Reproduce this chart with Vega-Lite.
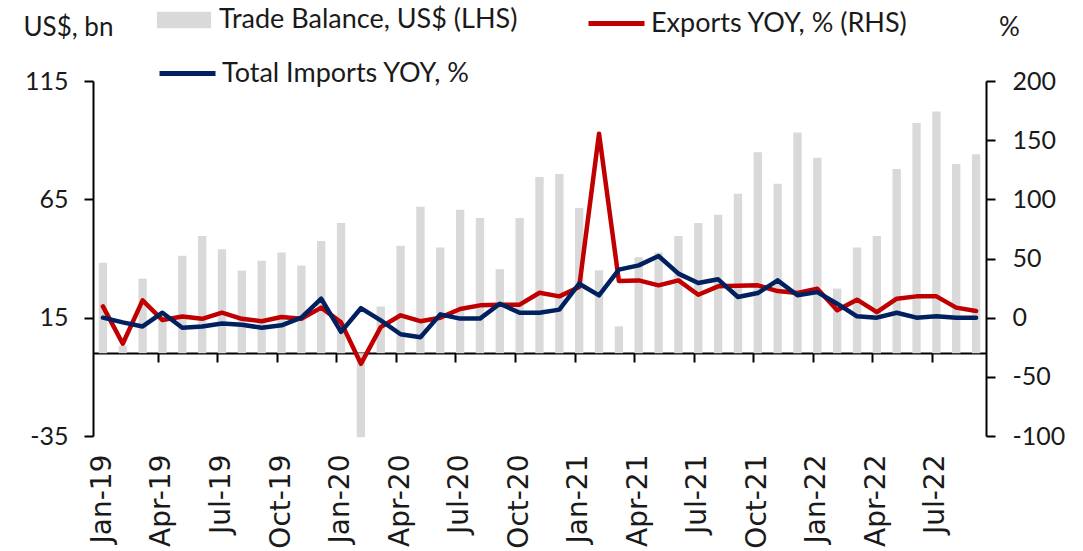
{
  "$schema": "https://vega.github.io/schema/vega-lite/v6.json",
  "width": 893,
  "height": 355,
  "autosize": "none",
  "padding": {"left": 93, "top": 81, "right": 97, "bottom": 115},
  "background": "white",
  "config": {
    "view": {"stroke": null},
    "font": "Lato",
    "axis": {"labelColor": "#1a1a1a", "titleColor": "#1a1a1a", "grid": false},
    "legend": {"labelColor": "#1a1a1a", "labelFont": "Lato"}
  },
  "data": {
    "values": [
      {"month": "Jan-19", "tb": 38.2, "exp": 9.5, "imp": 0},
      {"month": "Feb-19", "tb": 3, "exp": -22, "imp": -4},
      {"month": "Mar-19", "tb": 31.5, "exp": 14.6, "imp": -7.4},
      {"month": "Apr-19", "tb": 16, "exp": -2, "imp": 4.2},
      {"month": "May-19", "tb": 41.2, "exp": 1, "imp": -8.5},
      {"month": "Jun-19", "tb": 49.5, "exp": -1, "imp": -7.4},
      {"month": "Jul-19", "tb": 43.9, "exp": 4.2, "imp": -5},
      {"month": "Aug-19", "tb": 34.9, "exp": -1, "imp": -6},
      {"month": "Sep-19", "tb": 39.1, "exp": -3, "imp": -8.5},
      {"month": "Oct-19", "tb": 42.5, "exp": 0.5, "imp": -6.5},
      {"month": "Nov-19", "tb": 37, "exp": -1, "imp": 0},
      {"month": "Dec-19", "tb": 47.4, "exp": 8.5, "imp": 16},
      {"month": "Jan-20", "tb": 55, "exp": -4, "imp": -12},
      {"month": "Feb-20", "tb": -35.5, "exp": -39, "imp": 8},
      {"month": "Mar-20", "tb": 19.7, "exp": -8, "imp": -2.3},
      {"month": "Apr-20", "tb": 45.4, "exp": 2, "imp": -14},
      {"month": "May-20", "tb": 61.9, "exp": -3, "imp": -16.5},
      {"month": "Jun-20", "tb": 44.6, "exp": 0, "imp": 2.8},
      {"month": "Jul-20", "tb": 60.6, "exp": 7.3, "imp": -0.8},
      {"month": "Aug-20", "tb": 57.1, "exp": 10.4, "imp": -0.8},
      {"month": "Sep-20", "tb": 35.5, "exp": 10.9, "imp": 11.8},
      {"month": "Oct-20", "tb": 57.1, "exp": 11, "imp": 4.2},
      {"month": "Nov-20", "tb": 74.4, "exp": 21.1, "imp": 4.2},
      {"month": "Dec-20", "tb": 75.7, "exp": 18, "imp": 6.8},
      {"month": "Jan-21", "tb": 61.3, "exp": 25.9, "imp": 28.7},
      {"month": "Feb-21", "tb": 35, "exp": 155.5, "imp": 18.8},
      {"month": "Mar-21", "tb": 11.3, "exp": 31, "imp": 40.6},
      {"month": "Apr-21", "tb": 40.5, "exp": 31.5, "imp": 44.2},
      {"month": "May-21", "tb": 42.5, "exp": 27.3, "imp": 52.1},
      {"month": "Jun-21", "tb": 49.5, "exp": 31.5, "imp": 37.2},
      {"month": "Jul-21", "tb": 55, "exp": 19.4, "imp": 29.3},
      {"month": "Aug-21", "tb": 58.5, "exp": 26.5, "imp": 32.4},
      {"month": "Sep-21", "tb": 67.4, "exp": 27, "imp": 17.5},
      {"month": "Oct-21", "tb": 84.9, "exp": 27.3, "imp": 20.8},
      {"month": "Nov-21", "tb": 71.6, "exp": 22.5, "imp": 31.5},
      {"month": "Dec-21", "tb": 93.2, "exp": 20.8, "imp": 19},
      {"month": "Jan-22", "tb": 82.6, "exp": 24.5, "imp": 21.6},
      {"month": "Feb-22", "tb": 27.3, "exp": 6.2, "imp": 11.8},
      {"month": "Mar-22", "tb": 44.6, "exp": 15.2, "imp": 1.1},
      {"month": "Apr-22", "tb": 49.5, "exp": 4.7, "imp": 0},
      {"month": "May-22", "tb": 77.8, "exp": 16, "imp": 4.2},
      {"month": "Jun-22", "tb": 97.3, "exp": 18, "imp": 0},
      {"month": "Jul-22", "tb": 102.1, "exp": 18, "imp": 1.1},
      {"month": "Aug-22", "tb": 79.9, "exp": 8.5, "imp": 0},
      {"month": "Sep-22", "tb": 84, "exp": 5.6, "imp": 0}
    ]
  },
  "layer": [
    {
      "mark": {"type": "bar", "color": "#d9d9d9"},
      "encoding": {
        "x": {
          "field": "month", "type": "ordinal", "sort": null,
          "scale": {"paddingInner": 0.58, "paddingOuter": 0.29},
          "axis": {
            "orient": "bottom",
            "values": ["Jan-19","Apr-19","Jul-19","Oct-19","Jan-20","Apr-20","Jul-20","Oct-20","Jan-21","Apr-21","Jul-21","Oct-21","Jan-22","Apr-22","Jul-22"],
            "labelAngle": -90, "labelFont": "DejaVu Sans", "labelFontSize": 28,
            "labelPadding": 18, "domain": false, "ticks": false, "title": null
          }
        },
        "y": {
          "field": "tb", "type": "quantitative",
          "scale": {"domain": [-35, 115], "nice": false, "zero": false},
          "axis": {
            "orient": "left", "values": [-35, 15, 65, 115], "labelExpr": "'' + datum.value",
            "domainColor": "#000", "domainWidth": 2, "tickColor": "#000", "tickWidth": 2, "tickSize": 9,
            "labelFontSize": 25, "labelPadding": 16,
            "title": "US$, bn", "titleAngle": 0, "titleX": -70, "titleY": -54,
            "titleAlign": "left", "titleBaseline": "middle", "titleFontSize": 26, "titleFontWeight": "normal"
          }
        },
        "fill": {
          "datum": "Trade Balance, US$ (LHS)",
          "scale": {"range": ["#d9d9d9"]},
          "legend": {
            "orient": "none", "legendX": 64, "legendY": -88, "title": null,
            "symbolType": "M-1,-0.31H1V0.31H-1Z", "symbolSize": 2916, "symbolStrokeWidth": 0,
            "labelFontSize": 27, "labelOffset": 8, "labelLimit": 600
          }
        }
      }
    },
    {
      "layer": [
        {
          "mark": {"type": "line", "strokeWidth": 4.5, "strokeJoin": "round", "strokeCap": "round"},
          "encoding": {
            "x": {
              "field": "month", "type": "ordinal", "sort": null,
              "axis": {
                "orient": "bottom", "offset": -83,
                "values": ["Apr-19","Jul-19","Oct-19","Jan-20","Apr-20","Jul-20","Oct-20","Jan-21","Apr-21","Jul-21","Oct-21","Jan-22","Apr-22","Jul-22"],
                "bandPosition": 0, "labels": false, "domain": true, "domainColor": "#000", "domainWidth": 2,
                "ticks": true, "tickColor": "#000", "tickWidth": 2, "tickSize": 9, "title": null
              }
            },
            "y": {
              "field": "exp", "type": "quantitative",
              "scale": {"domain": [-100, 200], "nice": false, "zero": false},
              "axis": {
                "orient": "right", "values": [-100, -50, 0, 50, 100, 150, 200], "labelExpr": "'' + datum.value",
                "domainColor": "#000", "domainWidth": 2, "tickColor": "#000", "tickWidth": 2, "tickSize": 9,
                "labelFontSize": 25, "labelPadding": 17,
                "title": "%", "titleAngle": 0, "titleX": 23, "titleY": -54,
                "titleAlign": "center", "titleBaseline": "middle", "titleFontSize": 26, "titleFontWeight": "normal"
              }
            },
            "stroke": {
              "datum": "Exports YOY, % (RHS)",
              "scale": {"range": ["#c00000"]},
              "legend": {
                "orient": "none", "legendX": 493, "legendY": -88, "title": null,
                "symbolType": "stroke", "symbolSize": 3136, "symbolStrokeWidth": 5,
                "labelFontSize": 27, "labelOffset": 4, "labelLimit": 600
              }
            }
          }
        },
        {
          "mark": {"type": "line", "strokeWidth": 4.5, "strokeJoin": "round", "strokeCap": "round"},
          "encoding": {
            "x": {
              "field": "month", "type": "ordinal", "sort": null,
              "axis": {
                "orient": "bottom", "offset": -83,
                "values": ["Apr-19","Jul-19","Oct-19","Jan-20","Apr-20","Jul-20","Oct-20","Jan-21","Apr-21","Jul-21","Oct-21","Jan-22","Apr-22","Jul-22"],
                "bandPosition": 0, "labels": false, "domain": true, "domainColor": "#000", "domainWidth": 2,
                "ticks": true, "tickColor": "#000", "tickWidth": 2, "tickSize": 9, "title": null
              }
            },
            "y": {
              "field": "imp", "type": "quantitative",
              "scale": {"domain": [-100, 200], "nice": false, "zero": false},
              "axis": {
                "orient": "right", "values": [-100, -50, 0, 50, 100, 150, 200], "labelExpr": "'' + datum.value",
                "domainColor": "#000", "domainWidth": 2, "tickColor": "#000", "tickWidth": 2, "tickSize": 9,
                "labelFontSize": 25, "labelPadding": 17,
                "title": "%", "titleAngle": 0, "titleX": 23, "titleY": -54,
                "titleAlign": "center", "titleBaseline": "middle", "titleFontSize": 26, "titleFontWeight": "normal"
              }
            },
            "color": {
              "datum": "Total Imports YOY, %",
              "scale": {"range": ["#002060"]},
              "legend": {
                "orient": "none", "legendX": 64, "legendY": -38, "title": null,
                "symbolType": "stroke", "symbolSize": 3136, "symbolStrokeWidth": 5,
                "labelFontSize": 27, "labelOffset": 4, "labelLimit": 600
              }
            }
          }
        }
      ]
    }
  ],
  "resolve": {"scale": {"y": "independent"}, "axis": {"x": "independent"}}
}
